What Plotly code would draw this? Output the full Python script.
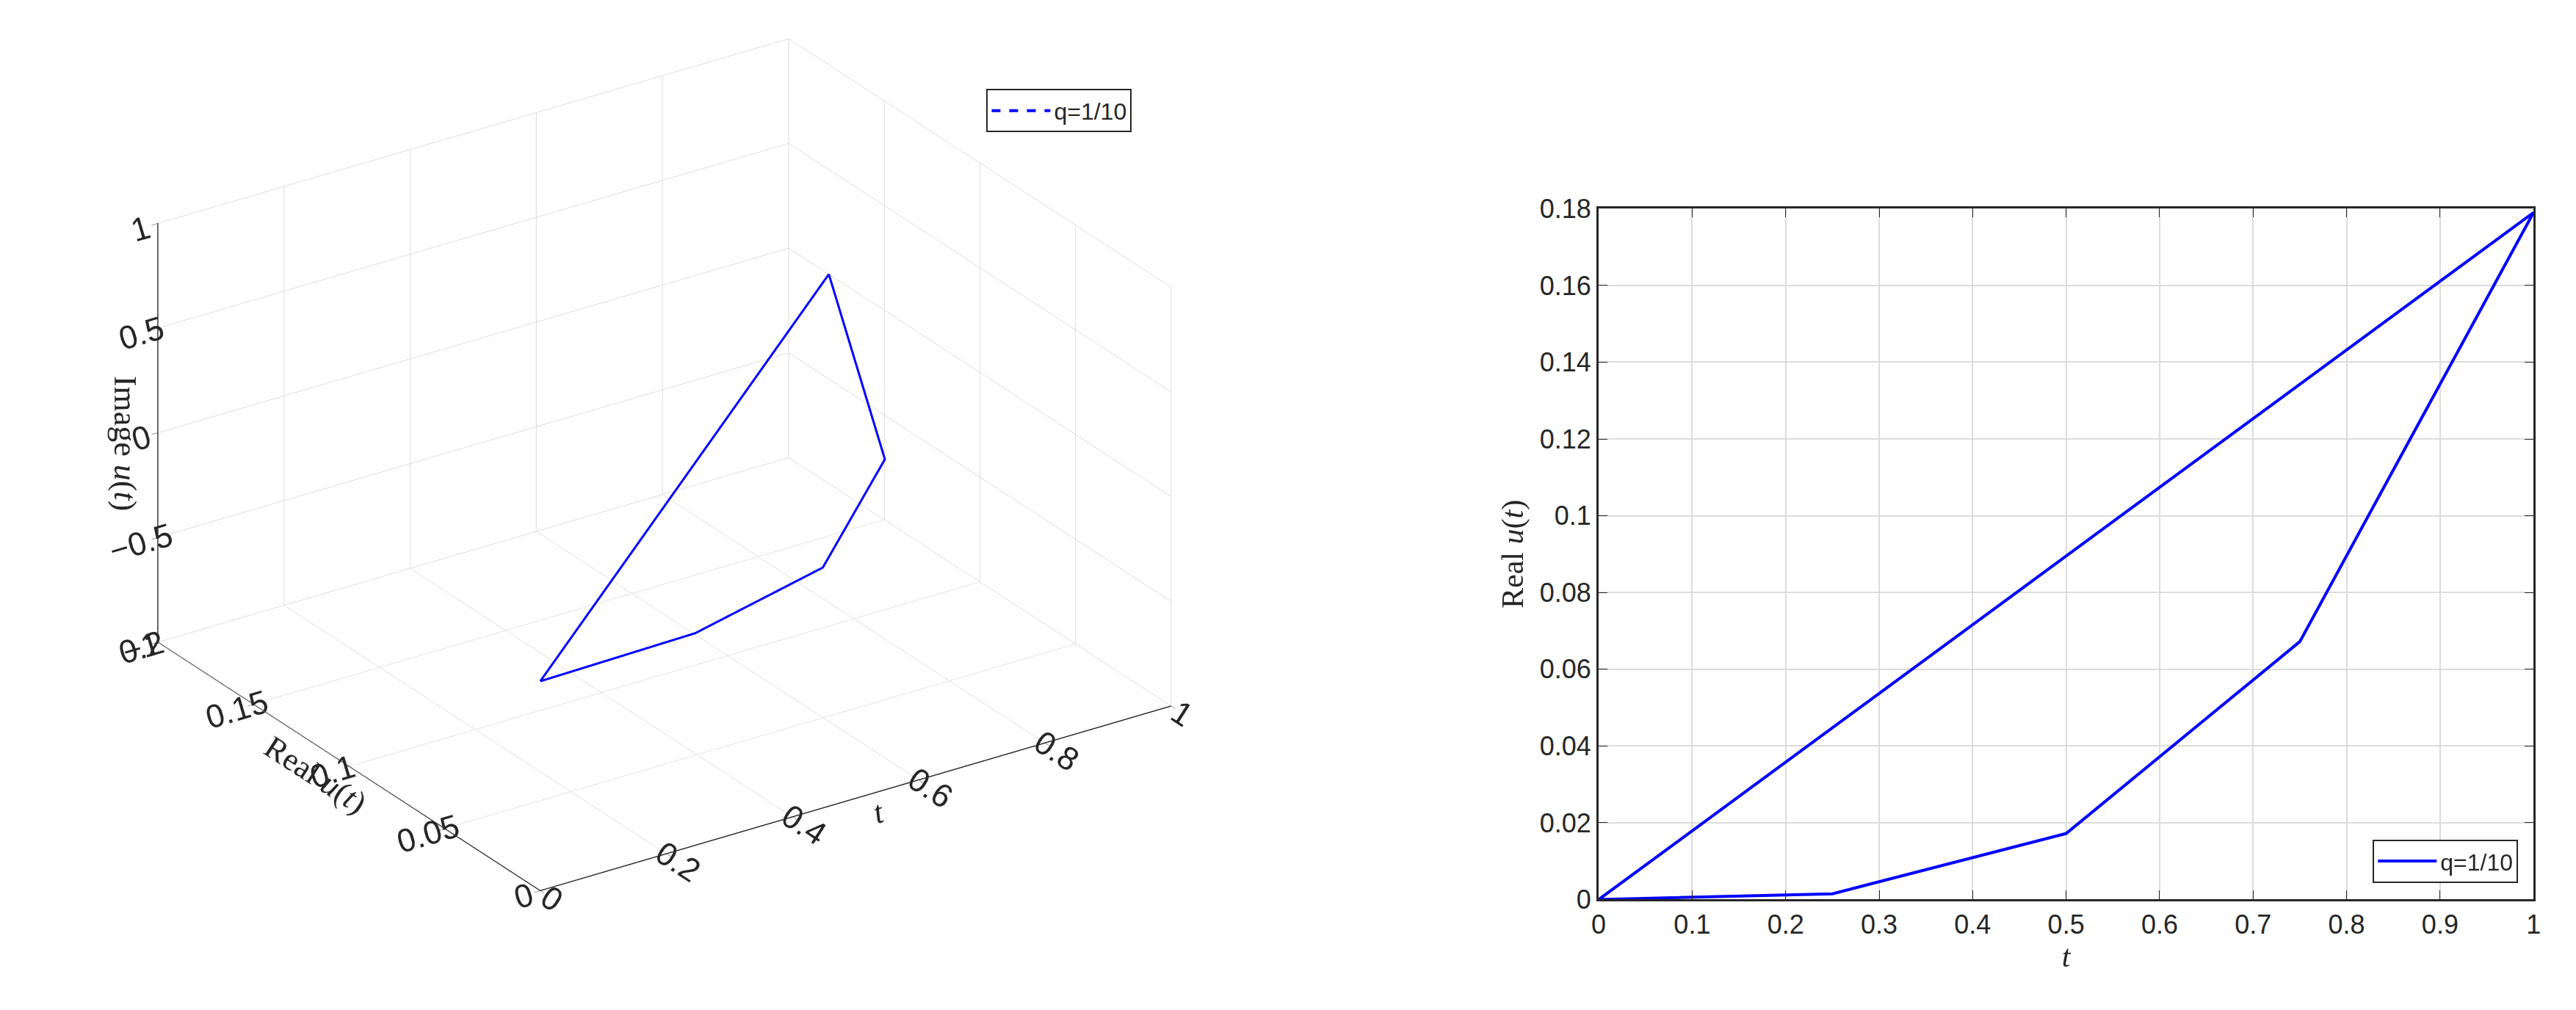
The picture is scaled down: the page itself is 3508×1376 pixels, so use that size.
import plotly.graph_objects as go

# closed path: t goes 0 -> 1 on the nodes, then straight back to 0
t_vals = [0, 0.25, 0.5, 0.75, 1, 0]
real_vals = [0, 0.0015, 0.0172, 0.0672, 0.179, 0]
imag_vals = [0, 0, 0, 0, 0, 0]
label = 'q=1/10'

tick_font = dict(family='Liberation Sans', size=36, color='#262626')
title_font = dict(family='Liberation Serif', size=42, color='#262626')
tick3d = dict(family='Liberation Sans', size=23, color='#262626')
title3d = dict(family='Liberation Serif', size=44, color='#262626')
grid = '#dcdcdc'

fig = go.Figure()

fig.add_trace(go.Scatter3d(
    x=t_vals, y=real_vals, z=imag_vals,
    mode='lines', line=dict(color='#0000ff', width=6),
    showlegend=False, scene='scene'
))
# legend entry for the 3d panel is drawn dashed in the original
fig.add_trace(go.Scatter(
    x=[None], y=[None], mode='lines',
    line=dict(color='#0000ff', width=4, dash='dash'),
    name=label, legend='legend', xaxis='x', yaxis='y'
))

fig.add_trace(go.Scatter(
    x=t_vals, y=real_vals, mode='lines',
    line=dict(color='#0000ff', width=4),
    name=label, legend='legend2', xaxis='x', yaxis='y'
))

axis3d = dict(showbackground=False, gridcolor=grid, gridwidth=2,
              showline=True, linecolor='#262626', linewidth=3,
              ticks='outside', tickcolor='#262626', ticklen=10,
              tickfont=tick3d, zeroline=False, showspikes=False)

fig.update_layout(
    width=3508, height=1376,
    paper_bgcolor='white', plot_bgcolor='white',
    margin=dict(l=0, r=0, t=0, b=0),
    scene=dict(
        domain=dict(x=[0.0, 0.5], y=[0.0, 1.0]),
        xaxis=dict(axis3d, range=[0, 1], dtick=0.2,
                   title=dict(text='<i>t</i>', font=title3d)),
        yaxis=dict(axis3d, range=[0, 0.2], dtick=0.05,
                   title=dict(text='Real <i>u</i>(<i>t</i>)', font=title3d)),
        zaxis=dict(axis3d, range=[-1, 1], dtick=0.5,
                   title=dict(text='Image <i>u</i>(<i>t</i>)', font=title3d)),
        aspectmode='manual', aspectratio=dict(x=1.55, y=1.4, z=0.95),
        camera=dict(eye=dict(x=-1.0, y=-1.45, z=0.75),
                    center=dict(x=0.0, y=0.04, z=-0.12),
                    projection=dict(type='orthographic')),
    ),
    xaxis=dict(domain=[0.619, 0.984], range=[0, 1], dtick=0.1,
               showgrid=True, gridcolor=grid, gridwidth=2,
               showline=True, mirror='ticks', linecolor='#262626', linewidth=3,
               ticks='inside', ticklen=12, tickcolor='#262626',
               tickfont=tick_font, zeroline=False,
               title=dict(text='<i>t</i>', font=title_font, standoff=5)),
    yaxis=dict(domain=[0.103, 0.808], range=[0, 0.18], dtick=0.02,
               showgrid=True, gridcolor=grid, gridwidth=2,
               showline=True, mirror='ticks', linecolor='#262626', linewidth=3,
               ticks='inside', ticklen=12, tickcolor='#262626',
               tickfont=tick_font, zeroline=False,
               title=dict(text='Real <i>u</i>(<i>t</i>)', font=title_font, standoff=10)),
    legend=dict(x=0.38, y=0.93, xanchor='left', yanchor='top', itemwidth=80,
                bordercolor='#262626', borderwidth=2, bgcolor='white',
                font=dict(family='Liberation Sans', size=32, color='#262626')),
    legend2=dict(x=0.978, y=0.12, xanchor='right', yanchor='bottom', itemwidth=80,
                 bordercolor='#262626', borderwidth=2, bgcolor='white',
                 font=dict(family='Liberation Sans', size=32, color='#262626')),
)

fig.write_html('out.html')
